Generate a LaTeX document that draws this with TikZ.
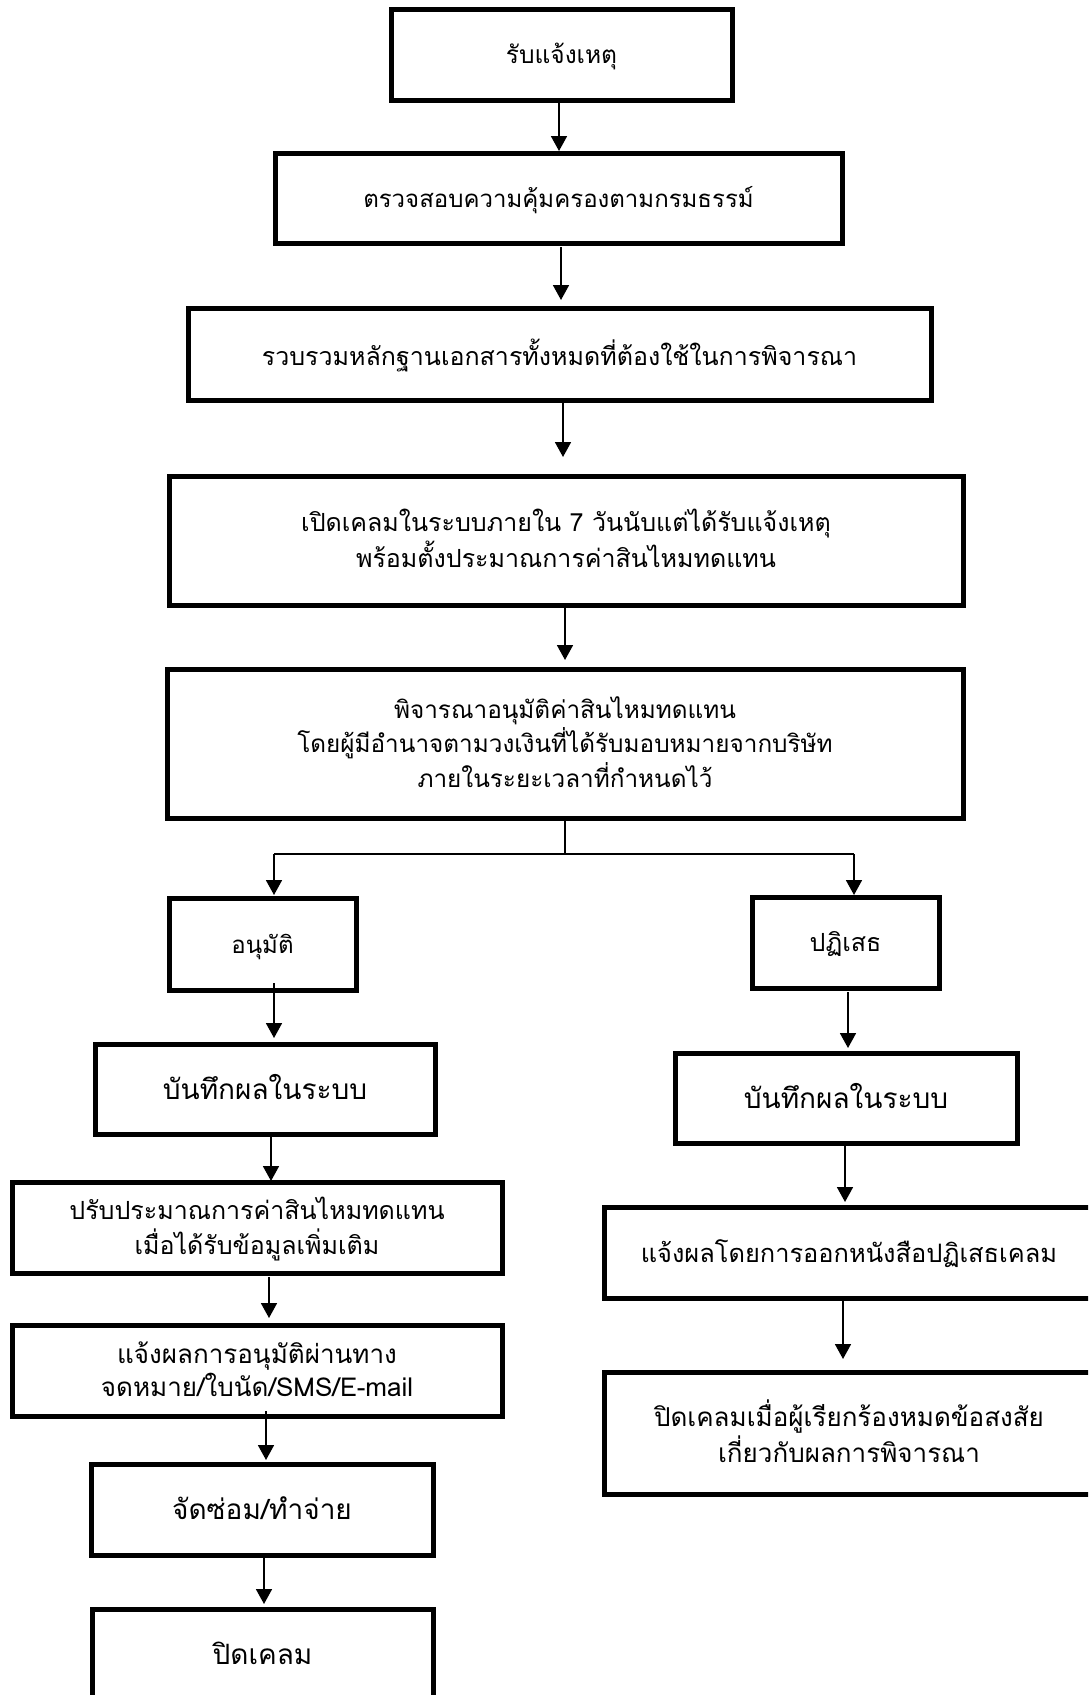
\documentclass[tikz,border=0pt]{standalone}
\usepackage{fontspec}
\newfontfamily\thaifont[Script=Thai]{Loma}
\usetikzlibrary{arrows.meta}
\newcommand\boxtext[3]{\raisebox{0pt}[\dimexpr\height+6pt\relax][\depth]{\fontsize{#1}{#2}\selectfont\begin{tabular}{@{}c@{}}#3\end{tabular}}}
\tikzset{
  box/.style={draw=black, line width=5pt, rectangle, inner sep=0pt, outer sep=0pt,
    align=center, font=\thaifont},
  arr/.style={draw=black, line width=1.8pt, -{Triangle[width=16pt,length=15pt]}},
  conn/.style={draw=black, line width=1.8pt}
}
\begin{document}
\begin{tikzpicture}[x=1pt,y=-1pt]
\useasboundingbox (0,0) rectangle (1088,1695);
\clip (0,0) rectangle (1088,1695);
\node[box, minimum width=341pt, minimum height=91pt] (b1) at (561.5,54.5) {\boxtext{24.5}{31}{รับแจ้งเหตุ}};
\node[box, minimum width=567pt, minimum height=90pt] (b2) at (558.5,198) {\boxtext{24}{31}{ตรวจสอบความคุ้มครองตามกรมธรรม์}};
\node[box, minimum width=743pt, minimum height=92pt] (b3) at (559.5,354) {\boxtext{25}{31}{รวบรวมหลักฐานเอกสารทั้งหมดที่ต้องใช้ในการพิจารณา}};
\node[box, minimum width=794pt, minimum height=129pt] (b4) at (566,540.5) {\boxtext{25}{32}{เปิดเคลมในระบบภายใน 7 วันนับแต่ได้รับแจ้งเหตุ\\พร้อมตั้งประมาณการค่าสินไหมทดแทน}};
\node[box, minimum width=796pt, minimum height=149pt] (b5) at (565,743.5) {\boxtext{24.3}{32}{พิจารณาอนุมัติค่าสินไหมทดแทน\\โดยผู้มีอำนาจตามวงเงินที่ได้รับมอบหมายจากบริษัท\\ภายในระยะเวลาที่กำหนดไว้}};
\node[box, minimum width=187pt, minimum height=92pt] (b6) at (262.5,944) {\boxtext{24}{31}{อนุมัติ}};
\node[box, minimum width=187pt, minimum height=91pt] (b7) at (845.5,942.5) {\boxtext{25}{31}{ปฏิเสธ}};
\node[box, minimum width=340pt, minimum height=90pt] (b8) at (265,1089) {\boxtext{28}{31}{บันทึกผลในระบบ}};
\node[box, minimum width=342pt, minimum height=90pt] (b9) at (846,1098) {\boxtext{28}{31}{บันทึกผลในระบบ}};
\node[box, minimum width=490pt, minimum height=91pt] (b10) at (257,1227.5) {\boxtext{25}{32}{ปรับประมาณการค่าสินไหมทดแทน\\เมื่อได้รับข้อมูลเพิ่มเติม}};
\node[box, minimum width=490pt, minimum height=91pt] (b11) at (849,1252.5) {\boxtext{25.4}{31}{แจ้งผลโดยการออกหนังสือปฏิเสธเคลม}};
\node[box, minimum width=490pt, minimum height=91pt] (b12) at (257,1370.5) {\boxtext{26}{32}{แจ้งผลการอนุมัติผ่านทาง\\จดหมาย/ใบนัด/SMS/E-mail}};
\node[box, minimum width=490pt, minimum height=122pt] (b13) at (849,1433) {\boxtext{26}{32}{ปิดเคลมเมื่อผู้เรียกร้องหมดข้อสงสัย\\เกี่ยวกับผลการพิจารณา}};
\node[box, minimum width=342pt, minimum height=91pt] (b14) at (262,1509.5) {\boxtext{28}{31}{จัดซ่อม/ทำจ่าย}};
\node[box, minimum width=341pt, minimum height=92pt] (b15) at (262.5,1655) {\boxtext{28}{31}{ปิดเคลม}};
% x positions of connectors
\coordinate (xa) at (559,0);
\coordinate (xb) at (561,0);
\coordinate (xc) at (563,0);
\coordinate (xd) at (565,0);
\coordinate (j0) at (565,854);
\coordinate (jl) at (274,854);
\coordinate (jr) at (854,854);
\coordinate (x68) at (274,0);
\coordinate (x810) at (271,0);
\coordinate (x1012) at (269,0);
\coordinate (x1214) at (266,0);
\coordinate (x1415) at (264,0);
\coordinate (x79) at (848,0);
\coordinate (x911) at (845,0);
\coordinate (x1113) at (843,0);
\draw[arr, shorten <=1pt, shorten >=2pt] (b1.south -| xa) -- (b2.north -| xa);
\draw[arr, shorten <=4pt, shorten >=8pt] (b2.south -| xb) -- (b3.north -| xb);
\draw[arr, shorten <=3pt, shorten >=19pt] (b3.south -| xc) -- (b4.north -| xc);
\draw[arr, shorten <=0pt, shorten >=9pt] (b4.south -| xd) -- (b5.north -| xd);
\draw[conn] (b5.south -| j0) -- (j0);
\draw[conn] (jl) -- (jr);
\draw[arr, shorten >=3pt] (jl) -- (b6.north -| jl);
\draw[arr, shorten >=2pt] (jr) -- (b7.north -| jr);
\draw[arr, shorten <=-7pt, shorten >=6pt] (b6.south -| x68) -- (b8.north -| x68);
\draw[arr, shorten <=-2pt, shorten >=1pt] (b8.south -| x810) -- (b10.north -| x810);
\draw[arr, shorten <=4pt, shorten >=7pt] (b10.south -| x1012) -- (b12.north -| x1012);
\draw[arr, shorten <=-5pt, shorten >=4pt] (b12.south -| x1214) -- (b14.north -| x1214);
\draw[arr, shorten <=0pt, shorten >=5pt] (b14.south -| x1415) -- (b15.north -| x1415);
\draw[arr, shorten <=4pt, shorten >=5pt] (b7.south -| x79) -- (b9.north -| x79);
\draw[arr, shorten <=0pt, shorten >=5pt] (b9.south -| x911) -- (b11.north -| x911);
\draw[arr, shorten <=3pt, shorten >=13pt] (b11.south -| x1113) -- (b13.north -| x1113);
\end{tikzpicture}
\end{document}
